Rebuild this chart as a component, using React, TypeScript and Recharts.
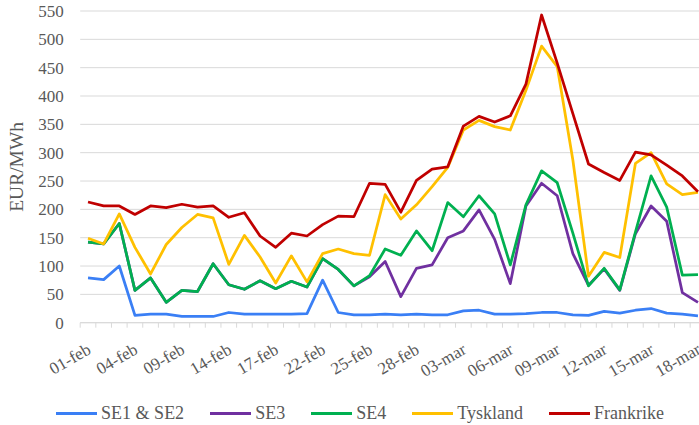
import { LineChart, Line, XAxis, YAxis, CartesianGrid } from 'recharts'

// Trading days shown on the category axis
const DATES = [
  '01-feb', '02-feb', '03-feb', '04-feb', '07-feb', '08-feb', '09-feb', '10-feb',
  '11-feb', '14-feb', '15-feb', '16-feb', '17-feb', '18-feb', '21-feb', '22-feb',
  '23-feb', '24-feb', '25-feb', '26-feb', '27-feb', '28-feb', '01-mar', '02-mar',
  '03-mar', '04-mar', '05-mar', '06-mar', '07-mar', '08-mar', '09-mar', '10-mar',
  '11-mar', '12-mar', '13-mar', '14-mar', '15-mar', '16-mar', '17-mar', '18-mar',
]

// EUR/MWh per area
const SE1_SE2 = [
  79, 76, 100, 13, 15, 15, 11, 11, 11, 18, 15, 15, 15, 15, 16, 75, 18, 14, 14, 15,
  14, 15, 14, 14, 21, 22, 15, 15, 16, 18, 18, 14, 13, 20, 17, 22, 25, 17, 15, 12,
]
const SE3 = [
  142, 139, 175, 57, 79, 36, 57, 55, 104, 67, 59, 74, 60, 73, 63, 113, 94, 65, 81, 108,
  46, 96, 102, 150, 162, 199, 147, 69, 206, 246, 224, 122, 66, 95, 57, 157, 206, 179, 53, 36,
]
const SE4 = [
  142, 139, 175, 57, 79, 36, 57, 55, 104, 67, 59, 74, 60, 73, 63, 113, 94, 65, 83, 130,
  119, 162, 127, 212, 187, 224, 192, 102, 208, 268, 247, 158, 65, 96, 58, 160, 259, 204, 84, 85,
]
const TYSKLAND = [
  149, 139, 192, 133, 86, 138, 168, 191, 185, 103, 154, 116, 70, 118, 72, 122, 130, 122, 119, 226,
  183, 208, 240, 274, 340, 357, 346, 340, 410, 488, 452, 287, 82, 124, 115, 281, 300, 245, 226, 230,
]
const FRANKRIKE = [
  213, 206, 206, 191, 206, 203, 209, 204, 206, 186, 194, 153, 133, 158, 153, 173, 188, 187, 246, 244,
  195, 251, 271, 275, 347, 364, 354, 365, 421, 543, 458, 369, 280, 265, 251, 301, 296, 278, 259, 231,
]

const Y_TICKS = [0, 50, 100, 150, 200, 250, 300, 350, 400, 450, 500, 550]

const SERIES = [
  { key: 'se12', name: 'SE1 & SE2', color: '#3a7ff5' },
  { key: 'se3', name: 'SE3', color: '#7030a0' },
  { key: 'se4', name: 'SE4', color: '#00b050' },
  { key: 'tyskland', name: 'Tyskland', color: '#ffc000' },
  { key: 'frankrike', name: 'Frankrike', color: '#c00000' },
]

const data = DATES.map((date, i) => ({
  date,
  se12: SE1_SE2[i],
  se3: SE3[i],
  se4: SE4[i],
  tyskland: TYSKLAND[i],
  frankrike: FRANKRIKE[i],
}))

// layout
const CHART_W = 720
const CHART_H = 425
const Y_AXIS_W = 80.2
const MARGIN_RIGHT = 14.2
const PLOT_W = CHART_W - Y_AXIS_W - MARGIN_RIGHT
const HALF_STEP = PLOT_W / DATES.length / 2
const FONT = 'Liberation Serif, DejaVu Serif, serif'
const TEXT_COLOR = '#595959'
const GRID_COLOR = '#d9d9d9'

// tick marks sit between categories, label every third day
function DateTick(props: any) {
  const { x, y, payload, index } = props
  const lx = x + 4
  const ly = y + 30
  return (
    <g>
      <line
        x1={x - HALF_STEP}
        x2={x - HALF_STEP}
        y1={y}
        y2={y + 5}
        stroke={GRID_COLOR}
      />
      {index % 3 === 0 && (
        <text
          x={lx}
          y={ly}
          textAnchor='end'
          transform={`rotate(-30, ${lx}, ${ly})`}
          fill={TEXT_COLOR}
          fontSize={17}
          fontFamily={FONT}
        >
          {payload.value}
        </text>
      )}
    </g>
  )
}

function YTitle(props: any) {
  const { viewBox } = props
  const cy = viewBox.y + viewBox.height / 2
  return (
    <text
      x={23}
      y={cy}
      textAnchor='middle'
      transform={`rotate(-90, 23, ${cy})`}
      fill={TEXT_COLOR}
      fontSize={19.5}
      fontFamily={FONT}
    >
      EUR/MWh
    </text>
  )
}

export default function App() {
  return (
    <div
      style={{
        position: 'absolute',
        top: 0,
        left: 0,
        width: 699,
        height: 425,
        overflow: 'hidden',
        background: '#fff',
        fontFamily: FONT,
      }}
    >
      <LineChart
        width={CHART_W}
        height={CHART_H}
        data={data}
        margin={{ top: 11, right: MARGIN_RIGHT, left: 0, bottom: 42.3 }}
        style={{ fontFamily: FONT }}
      >
        <CartesianGrid vertical={false} stroke={GRID_COLOR} />
        <XAxis
          dataKey='date'
          interval={0}
          height={60}
          padding={{ left: HALF_STEP, right: HALF_STEP }}
          tickSize={0}
          tickMargin={0}
          tickLine={false}
          axisLine={{ stroke: GRID_COLOR }}
          tick={<DateTick />}
        />
        <YAxis
          width={Y_AXIS_W}
          domain={[0, 550]}
          ticks={Y_TICKS}
          interval={0}
          axisLine={false}
          tickLine={false}
          tickSize={0}
          tickMargin={16.5}
          tick={{ fontSize: 17, fontFamily: FONT, fill: TEXT_COLOR }}
          label={{ content: <YTitle /> }}
        />
        {SERIES.map(s => (
          <Line
            key={s.key}
            dataKey={s.key}
            name={s.name}
            stroke={s.color}
            strokeWidth={2.75}
            strokeLinejoin='round'
            dot={false}
            activeDot={false}
            isAnimationActive={false}
          />
        ))}
      </LineChart>
      <div
        style={{
          position: 'absolute',
          left: 0,
          width: CHART_W,
          top: 402,
          height: 22,
          display: 'flex',
          justifyContent: 'center',
          alignItems: 'center',
          gap: 26,
          fontFamily: FONT,
          fontSize: 18,
          lineHeight: '22px',
          color: TEXT_COLOR,
        }}
      >
        {SERIES.map(s => (
          <div key={s.key} style={{ display: 'flex', alignItems: 'center' }}>
            <div
              style={{
                width: 41,
                height: 3,
                background: s.color,
                marginRight: 4,
              }}
            />
            <span>{s.name}</span>
          </div>
        ))}
      </div>
    </div>
  )
}
